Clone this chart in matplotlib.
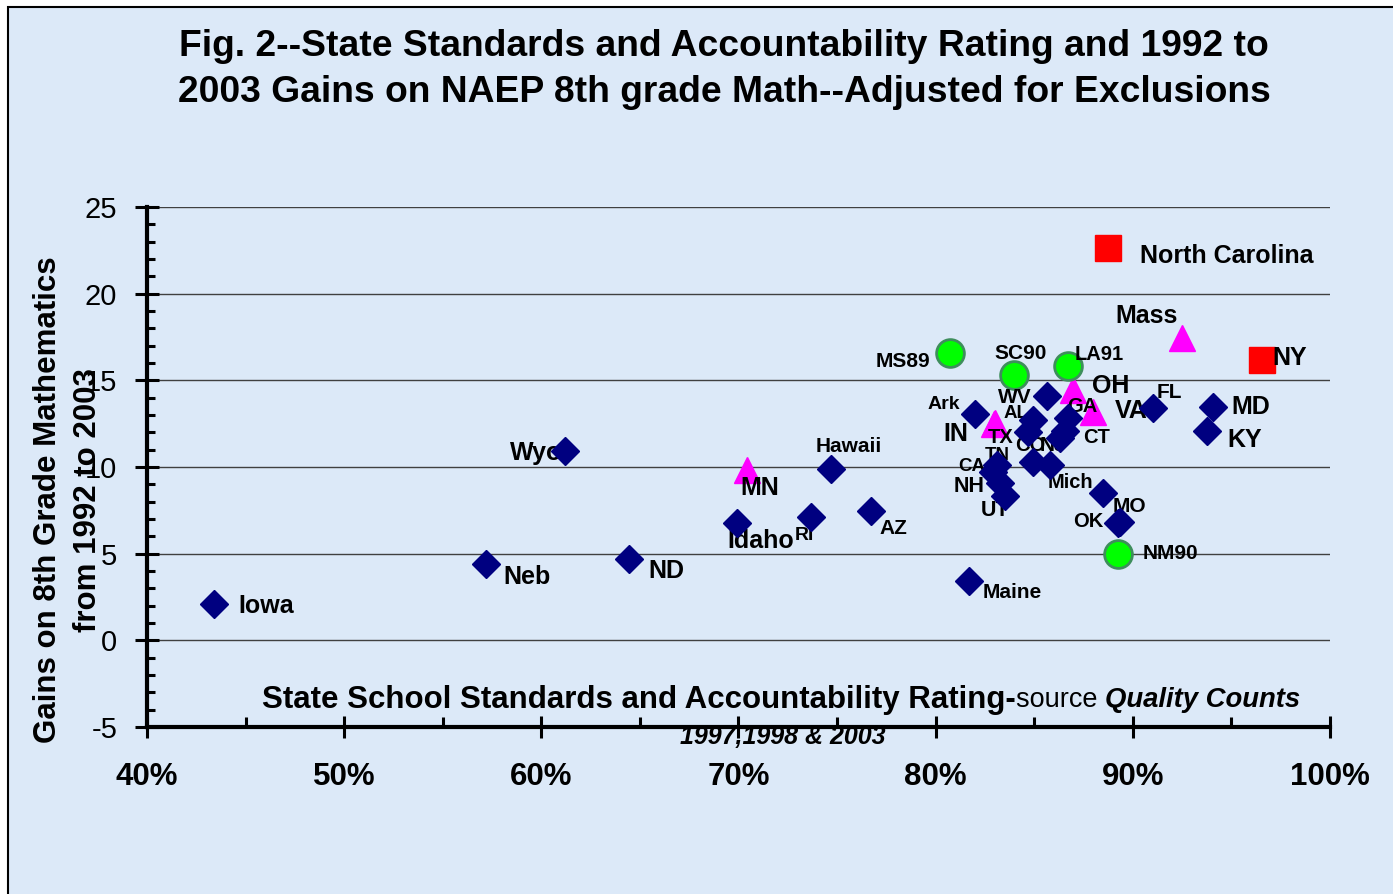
import matplotlib
matplotlib.use("Agg")
import matplotlib.pyplot as plt
from matplotlib.patches import Rectangle
from matplotlib.ticker import MultipleLocator

plt.rcParams['font.family'] = ['Liberation Sans', 'DejaVu Sans']

# --- data (rating %, gain in points) ---
diamond_names = ["Iowa", "Neb", "ND", "Wyo", "Idaho", "RI", "Hawaii", "AZ", "Maine", "Ark",
                 "WV", "AL", "", "GA", "", "CT", "CO", "NJ", "TN", "CA", "NH", "UT",
                 "Mich", "OK", "MO", "FL", "MD", "KY"]
diamond_x = [43.4, 57.2, 64.45, 61.2, 69.9, 73.7, 74.7, 76.7, 81.7, 82.0,
             85.65, 84.95, 84.7, 86.7, 86.55, 86.3, 84.95, 85.8, 83.1, 82.9, 83.25, 83.5,
             88.5, 89.25, 89.35, 91.0, 94.05, 93.75]
diamond_y = [2.1, 4.4, 4.7, 10.9, 6.75, 7.1, 9.9, 7.45, 3.45, 13.05,
             14.1, 12.7, 12.0, 12.8, 12.1, 11.65, 10.3, 10.1, 10.1, 9.7, 9.1, 8.35,
             8.5, 6.75, 6.85, 13.4, 13.45, 12.1]

triangle_names = ["MN", "IN", "TX", "OH", "VA", "Mass"]
triangle_x = [70.45, 82.95, 83.0, 86.95, 88.0, 92.5]
triangle_y = [9.8, 12.5, 12.55, 14.45, 13.15, 17.45]

circle_names = ["MS89", "SC90", "LA91", "NM90"]
circle_x = [80.75, 83.95, 86.7, 89.25]
circle_y = [16.55, 15.3, 15.8, 5.0]

square_names = ["North Carolina", "NY"]
square_x = [88.75, 96.55]
square_y = [22.65, 16.15]

# label placement: (dx, dy) in pixels, horizontal alignment, font size
label_style = {
    "Iowa": (24, -2, "left", 18), "Neb": (17, -13, "left", 18),
    "ND": (19, -12, "left", 18), "Wyo": (-3, -2, "right", 18),
    "Idaho": (-9, -18, "left", 18), "RI": (-17, -18, "left", 14),
    "Hawaii": (-16, 22, "left", 15), "AZ": (9, -17, "left", 15),
    "Maine": (13, -12, "left", 15), "Ark": (-15, 10, "right", 14),
    "WV": (-15, -2, "right", 15), "AL": (-5, 7, "right", 13.5),
    "GA": (-1, 12, "left", 14.5), "CT": (23, 1, "left", 14.5),
    "CO": (-18, 16, "left", 14.5), "NJ": (-10, 20, "left", 15),
    "TN": (-12, 10, "left", 13.5), "CA": (-8, 6, "right", 13.5),
    "NH": (-15, -4, "right", 15.5), "UT": (-24, -15, "left", 15.5),
    "Mich": (-10, 10, "right", 14.5), "OK": (-15, 2, "right", 14.5),
    "MO": (-7, 15, "left", 15), "FL": (4, 16, "left", 15),
    "MD": (19, 0, "left", 18), "KY": (21, -9, "left", 18),
    "MN": (-7, -18, "left", 18), "IN": (-26, -10, "right", 18),
    "TX": (-7, -15, "left", 14.5), "OH": (19, 4, "left", 18),
    "VA": (21, 1, "left", 18), "Mass": (-4, 22, "right", 18),
    "MS89": (-20, -8, "right", 15), "SC90": (-19, 22, "left", 15),
    "LA91": (7, 12, "left", 14.5), "NM90": (25, 0, "left", 15),
    "North Carolina": (32, -8, "left", 18), "NY": (10, 2, "left", 18),
}

bg = "#dce9f8"

fig = plt.figure(figsize=(13.93, 8.94), dpi=100)
fig.patch.set_facecolor("white")
fig.patches.append(Rectangle((8 / 1393, -0.05), 1.1, 1.05 - 7 / 894,
                             transform=fig.transFigure, facecolor=bg,
                             edgecolor="black", lw=1.5, zorder=-10))

ax = fig.add_axes([147 / 1393, 1 - 727 / 894, (1330 - 147) / 1393, (727 - 207) / 894])
ax.patch.set_visible(False)

ax.plot(triangle_x, triangle_y, ls="none", marker="^", ms=19, mfc="#ff00ff",
        mec="#ff00ff", mew=1, zorder=3)
ax.plot(circle_x, circle_y, ls="none", marker="o", ms=20, mfc="#00ff00",
        mec="#3e8e5c", mew=2, zorder=3)
ax.plot(square_x, square_y, ls="none", marker="s", ms=19, mfc="#ff0000",
        mec="#ff0000", mew=1, zorder=3)
ax.plot(diamond_x, diamond_y, ls="none", marker="D", ms=14, mfc="#000080",
        mec="#000080", mew=1, zorder=5)

for names, xs, ys in [(diamond_names, diamond_x, diamond_y),
                      (triangle_names, triangle_x, triangle_y),
                      (circle_names, circle_x, circle_y),
                      (square_names, square_x, square_y)]:
    for n, x, y in zip(names, xs, ys):
        if not n:
            continue
        dx, dy, ha, fs = label_style[n]
        ax.annotate(n, (x, y), xytext=(dx, dy), textcoords="offset pixels",
                    ha=ha, va="center", fontsize=fs, fontweight="bold",
                    zorder=4, annotation_clip=False)

ax.set_xlim(40, 100)
ax.set_ylim(-5, 25)
ax.set_xticks(range(40, 101, 10))
ax.set_xticklabels([f"{v}%" for v in range(40, 101, 10)], fontsize=22.5, fontweight="bold")
ax.set_yticks(range(-5, 26, 5))
ax.set_yticklabels([str(v) for v in range(-5, 26, 5)], fontsize=21)
ax.xaxis.set_minor_locator(MultipleLocator(5))
ax.yaxis.set_minor_locator(MultipleLocator(1))
ax.tick_params(axis="x", which="major", direction="inout", length=16, width=2.2, pad=17)
ax.tick_params(axis="x", which="minor", direction="in", length=7, width=2.2)
ax.tick_params(axis="y", which="major", direction="inout", length=17, width=2.2, pad=13)
ax.tick_params(axis="y", which="minor", direction="in", length=6, width=2.2)

for s in ["top", "right"]:
    ax.spines[s].set_visible(False)
for s in ["left", "bottom"]:
    ax.spines[s].set_linewidth(3)

for v in range(0, 26, 5):
    ax.axhline(v, color="#404040", lw=1, zorder=1)

# title
fig.text(724 / 1393, 1 - 47 / 894, "Fig. 2--State Standards and Accountability Rating and 1992 to",
         ha="center", va="center", fontsize=26.8, fontweight="bold")
fig.text(724 / 1393, 1 - 93 / 894, "2003 Gains on NAEP 8th grade Math--Adjusted for Exclusions",
         ha="center", va="center", fontsize=26.8, fontweight="bold")

# y label (two lines)
fig.text(48 / 1393, 1 - 500 / 894, "Gains on 8th Grade Mathematics", rotation=90,
         ha="center", va="center", fontsize=22.5, fontweight="bold")
fig.text(88 / 1393, 1 - 500 / 894, "from 1992 to 2003", rotation=90,
         ha="center", va="center", fontsize=22.5, fontweight="bold")

# x label
t1 = fig.text(262 / 1393, 1 - 700 / 894, "State School Standards and Accountability Rating-",
              ha="left", va="center", fontsize=22.5, fontweight="bold")
t2 = ax.annotate("source ", xy=(1, 0.5), xycoords=t1, ha="left", va="center",
                 fontsize=19.5)
ax.annotate("Quality Counts", xy=(1, 0.5), xycoords=t2, ha="left", va="center",
            fontsize=19.8, fontweight="bold", style="italic")
fig.text(783 / 1393, 1 - 737 / 894, "1997,1998 & 2003", ha="center", va="center",
         fontsize=18, fontweight="bold", style="italic")

fig.savefig("out.png", dpi=100)
